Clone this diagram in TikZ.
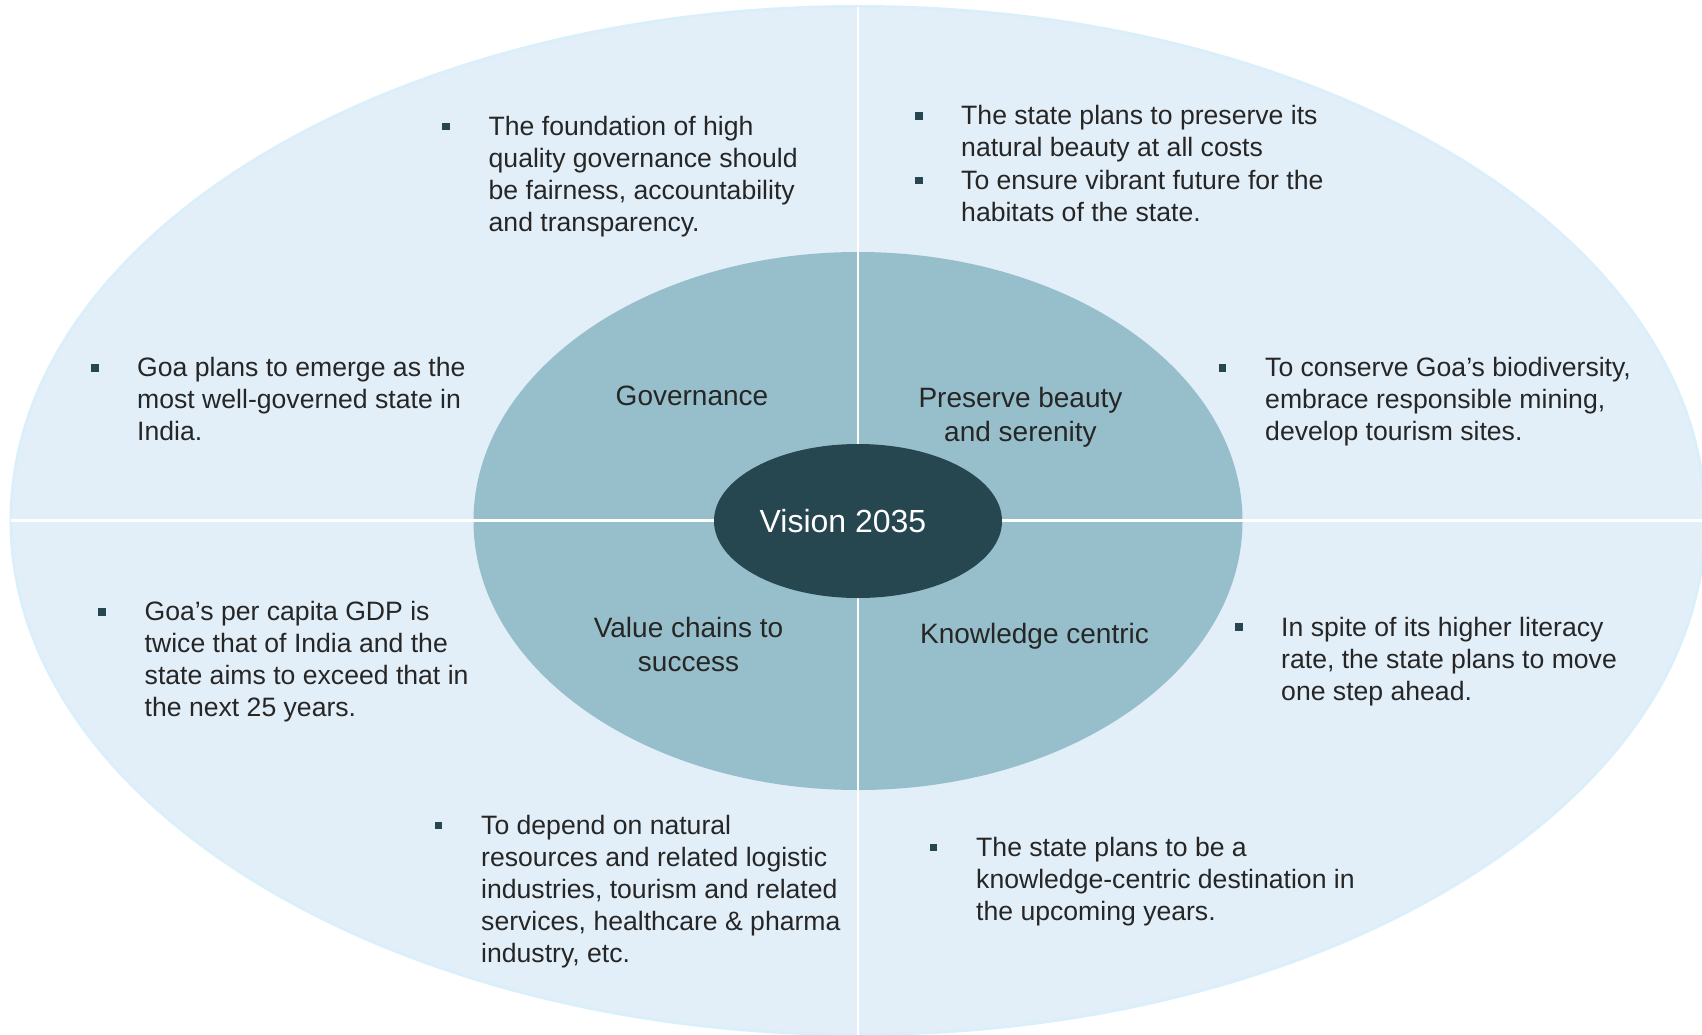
\documentclass[tikz,border=0pt]{standalone}
\usepackage{fontspec}
\setmainfont{Liberation Sans}
\usetikzlibrary{shapes.geometric}

\definecolor{outerfill}{HTML}{E2EFF9}
\definecolor{outerrim}{HTML}{DAEFFA}
\definecolor{innerfill}{HTML}{97BFCB}
\definecolor{corefill}{HTML}{264650}
\definecolor{bodytext}{HTML}{262626}

% left-aligned and centred multi-line blocks whose baseline is the first line
\newcommand\leftblock[1]{\vtop{\baselineskip=32pt\lineskiplimit=-1000pt\halign{##\hfil\cr#1\crcr}}}
\newcommand\centerblock[1]{\vtop{\baselineskip=34pt\lineskiplimit=-1000pt\halign{\hfil##\hfil\cr#1\crcr}}}

\tikzset{
  disc/.style={ellipse, inner sep=0pt, outer sep=0pt, draw=none},
  divider/.style={draw=white, line width=2.5pt},
  bodytxt/.style={anchor=base west, inner sep=0pt, text=bodytext,
    font=\fontsize{26.6}{32}\selectfont},
  sectortxt/.style={anchor=base, inner sep=0pt, text=bodytext,
    font=\fontsize{28}{34}\selectfont},
  coretxt/.style={anchor=base, inner sep=0pt, text=white,
    font=\fontsize{32}{36}\selectfont},
  bulletsq/.style={rectangle, fill=corefill, minimum size=7.5pt, inner sep=0pt}
}

\begin{document}
\begin{tikzpicture}[x=1pt, y=-1pt]
\useasboundingbox (0,0) rectangle (1702,1034);

% rings
\node[disc, fill=outerfill, draw=outerrim, line width=3pt,
      minimum width=1694pt, minimum height=1028pt] (outer) at (858,520.5) {};
\node[disc, fill=innerfill, minimum width=769pt, minimum height=538pt] (inner) at (858,521) {};
\draw[divider] (outer.north) -- (outer.south);
\draw[divider] (outer.west) -- (outer.east);
\node[disc, fill=corefill, minimum width=288pt, minimum height=154pt] (core) at (858,521) {};
\node[coretxt] (vision) at (843,532) {Vision 2035};

% sector titles
\node[sectortxt] (gov)  at (692,405)    {Governance};
\node[sectortxt] (pres) at (1020.5,407) {\centerblock{Preserve beauty\cr and serenity}};
\node[sectortxt] (val)  at (688.5,637)  {\centerblock{Value chains to\cr success}};
\node[sectortxt] (know) at (1034.5,643.5) {Knowledge centric};

% bullet texts
\node[bodytxt] (t1) at (488.5,135) {\leftblock{The foundation of high\cr quality governance should\cr be fairness, accountability\cr and transparency.}};
\node[bulletsq] (b1) at (446,126.5) {};

\node[bodytxt] (t2a) at (961,124.5) {\leftblock{The state plans to preserve its\cr natural beauty at all costs}};
\node[bulletsq] (b2a) at (919,116) {};
\node[bodytxt] (t2b) at (961,189) {\leftblock{To ensure vibrant future for the\cr habitats of the state.}};
\node[bulletsq] (b2b) at (919,180.5) {};

\node[bodytxt] (t3) at (137,376) {\leftblock{Goa plans to emerge as the\cr most well-governed state in\cr India.}};
\node[bulletsq] (b3) at (95,368) {};

\node[bodytxt] (t4) at (1265,376) {\leftblock{To conserve Goa’s biodiversity,\cr embrace responsible mining,\cr develop tourism sites.}};
\node[bulletsq] (b4) at (1222.5,368) {};

\node[bodytxt] (t5) at (144.5,620.5) {\leftblock{Goa’s per capita GDP is\cr twice that of India and the\cr state aims to exceed that in\cr the next 25 years.}};
\node[bulletsq] (b5) at (102,612) {};

\node[bodytxt] (t6) at (1281,636) {\leftblock{In spite of its higher literacy\cr rate, the state plans to move\cr one step ahead.}};
\node[bulletsq] (b6) at (1239,627) {};

\node[bodytxt] (t7) at (481,834) {\leftblock{To depend on natural\cr resources and related logistic\cr industries, tourism and related\cr services, healthcare \& pharma\cr industry, etc.}};
\node[bulletsq] (b7) at (438.5,825.5) {};

\node[bodytxt] (t8) at (976,856) {\leftblock{The state plans to be a\cr knowledge-centric destination in\cr the upcoming years.}};
\node[bulletsq] (b8) at (933.5,847.5) {};
\end{tikzpicture}
\end{document}
